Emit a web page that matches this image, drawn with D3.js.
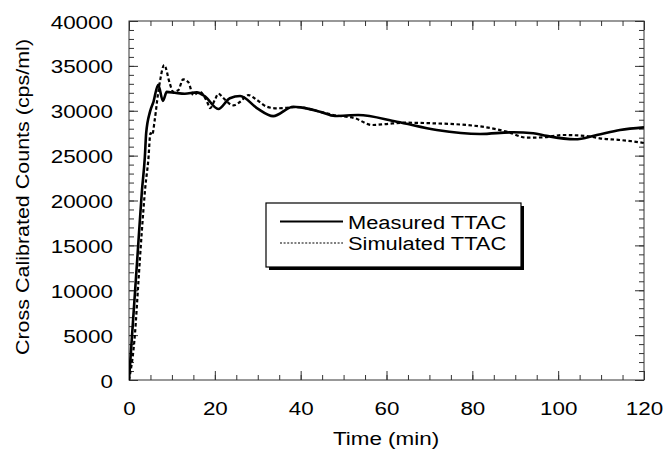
<!DOCTYPE html>
<html><head><meta charset="utf-8">
<script src="https://cdn.jsdelivr.net/npm/d3@7"></script>
<style>
html,body{margin:0;padding:0;background:#fff;}
svg{display:block;}
text{font-family:"Liberation Sans",Arial,Helvetica,sans-serif;fill:#000;}
</style></head>
<body>
<svg id="chart" width="665" height="449"></svg>
<script>
// ---- data ----
const measuredT = [0,1,2,3,3.7,4,4.9,5.7,6.8,7.9,8.8,10.7,13,15.8,17.7,20.8,23.5,25.9,29.8,33.6,38.3,40,44.5,48,53.4,62.4,71.7,81.8,89.5,94.2,97.3,103.9,109,114.4,120];
const measuredV = [0,7000,14000,21000,24900,27500,29900,31000,32900,31100,32100,32000,31900,32050,31600,30200,31400,31650,30300,29400,30450,30380,29900,29420,29530,28780,27860,27410,27600,27500,27200,26820,27300,27860,28150];
const simulatedT = [0,1.4,2.2,2.95,3.8,4.5,5.0,5.4,6.0,6.8,7.3,8.2,9.5,10.3,11.5,12.6,13.8,15,16.5,18.2,18.9,20,20.8,22,24.3,25.9,27.8,29.8,32.1,34.4,39.1,44.5,47.6,52.7,56.6,60,63.9,70.9,78.7,83.3,88,92.7,96.5,101.2,106.6,109.7,114.4,119,120];
const simulatedV = [0,5200,11000,16300,21500,24500,27500,27300,29000,32000,33500,35100,33050,32100,32300,33500,33200,31750,32100,31000,30300,31200,31900,31400,30600,31000,31750,31200,30450,30270,30400,29900,29530,29160,28410,28520,28670,28600,28410,28150,27670,27000,27040,27300,27190,26930,26740,26480,26400];
const seriesNames = ["Measured TTAC","Simulated TTAC"];
const xTickLabels = [0,20,40,60,80,100,120];
const yTickLabels = [0,5000,10000,15000,20000,25000,30000,35000,40000];
const xTitle = "Time (min)";
const yTitle = "Cross Calibrated Counts (cps/ml)";

// ---- layout ----
const L=129, R=644, T=21, B=380;
const SX = 1.18, FS = 19;
const svg = d3.select("#chart");
const x = d3.scaleLinear().domain([0,120]).range([L,R]);
const y = d3.scaleLinear().domain([0,40000]).range([B,T]);

const minorX = d3.range(0,121,5), minorY = d3.range(0,40001,1000);

function axisG(axis, tx, ty){
  const g = svg.append("g").attr("transform",`translate(${tx},${ty})`).call(axis);
  g.select(".domain").remove();
  g.selectAll(".tick line").attr("stroke","#333").attr("stroke-width",1);
  return g;
}
// minor ticks all sides
axisG(d3.axisBottom(x).tickValues(minorX).tickSize(-5).tickFormat(""),0,B);
axisG(d3.axisTop(x).tickValues(minorX).tickSize(-5).tickFormat(""),0,T);
axisG(d3.axisLeft(y).tickValues(minorY).tickSize(-5).tickFormat(""),L,0);
axisG(d3.axisRight(y).tickValues(minorY).tickSize(-5).tickFormat(""),R,0);
// major ticks
const gx = axisG(d3.axisBottom(x).tickValues(xTickLabels).tickSize(-9).tickPadding(0).tickFormat(d3.format("d")),0,B);
axisG(d3.axisTop(x).tickValues(xTickLabels).tickSize(-9).tickFormat(""),0,T);
const gy = axisG(d3.axisLeft(y).tickValues(yTickLabels).tickSize(-9).tickPadding(0).tickFormat(d3.format("d")),L,0);
axisG(d3.axisRight(y).tickValues(yTickLabels).tickSize(-9).tickFormat(""),R,0);

gx.selectAll(".tick text").attr("y",null).attr("dy",null)
  .attr("transform",`translate(0,35) scale(${SX},1)`)
  .style("font-size",FS+"px").attr("text-anchor","middle");
gy.selectAll(".tick text").attr("x",null).attr("dy",null)
  .attr("transform",`translate(-16,7) scale(${SX},1)`)
  .style("font-size",FS+"px").attr("text-anchor","end");

// frame
svg.append("rect").attr("x",L).attr("y",T).attr("width",R-L).attr("height",B-T)
  .attr("fill","none").attr("stroke","#333").attr("stroke-width",1);

// titles
svg.append("text").attr("transform",`translate(386,445) scale(${SX},1)`)
  .attr("text-anchor","middle").style("font-size",FS+"px").text(xTitle);
svg.append("text").attr("transform",`translate(29,197) rotate(-90) scale(1.13,1)`)
  .attr("text-anchor","middle").style("font-size",FS+"px").text(yTitle);

// lines
svg.append("clipPath").attr("id","clip").append("rect")
  .attr("x",L).attr("y",T-20).attr("width",R-L).attr("height",B-T+20);
const line = d3.line().x(d=>x(d[0])).y(d=>y(d[1])).curve(d3.curveMonotoneX);
const measured = measuredT.map((t,i)=>[t,measuredV[i]]);
const simulated = simulatedT.map((t,i)=>[t,simulatedV[i]]);
svg.append("path").datum(simulated).attr("d",line).attr("fill","none")
  .attr("stroke","#000").attr("stroke-width",2.2).attr("stroke-dasharray","3.5,2.5")
  .attr("clip-path","url(#clip)");
svg.append("path").datum(measured).attr("d",line).attr("fill","none")
  .attr("stroke","#000").attr("stroke-width",2.6).attr("stroke-linejoin","round")
  .attr("clip-path","url(#clip)");

// legend
const lg = {x:266,y:203,w:255,h:64};
svg.append("rect").attr("x",lg.x+3).attr("y",lg.y+3).attr("width",lg.w).attr("height",lg.h).attr("fill","#000");
svg.append("rect").attr("x",lg.x).attr("y",lg.y).attr("width",lg.w).attr("height",lg.h)
  .attr("fill","#fff").attr("stroke","#000").attr("stroke-width",1.2);
const legendRows = [
  {name:seriesNames[0], dash:null, w:1.8, yy:221.5},
  {name:seriesNames[1], dash:"2,1.6", w:1.2, yy:243}
];
legendRows.forEach(r=>{
  svg.append("line").attr("x1",280).attr("x2",343).attr("y1",r.yy).attr("y2",r.yy)
    .attr("stroke","#000").attr("stroke-width",r.w).attr("stroke-dasharray",r.dash);
  svg.append("text").attr("transform",`translate(348,${r.yy+7}) scale(1.15,1)`)
    .style("font-size","19px").text(r.name);
});
</script>
</body></html>
